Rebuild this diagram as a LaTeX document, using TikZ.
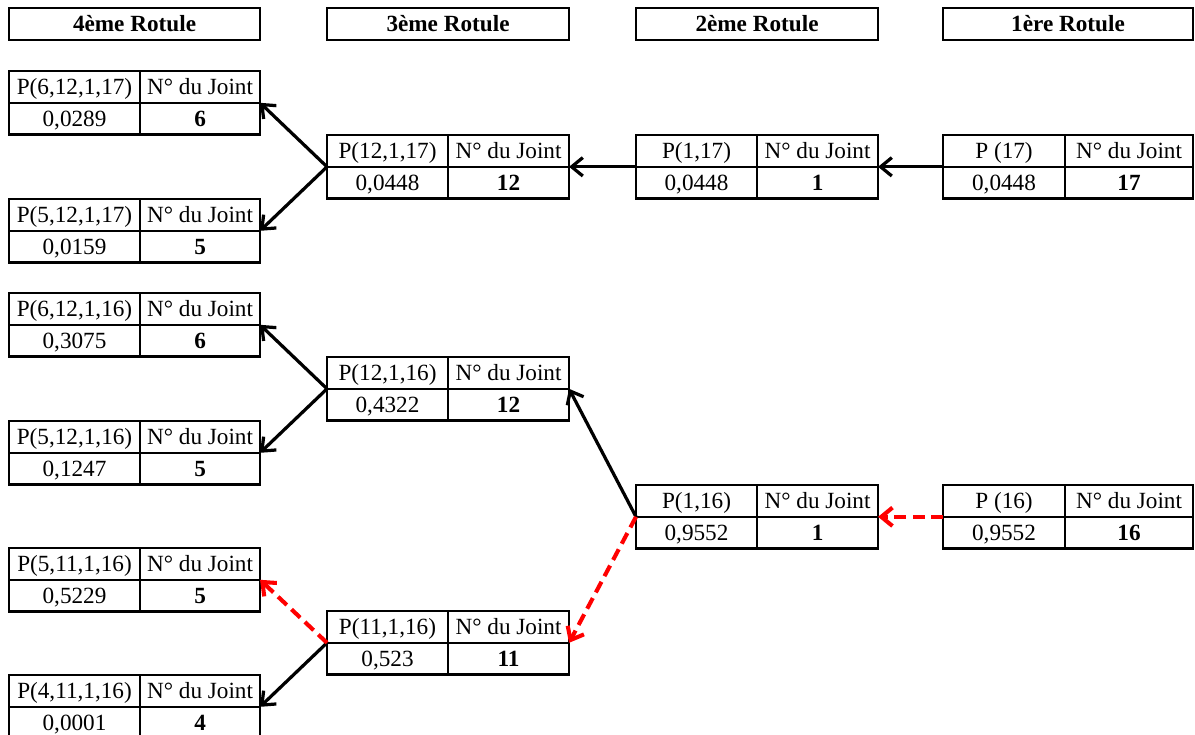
\documentclass[tikz,border=0pt]{standalone}
\usepackage{fontspec}
\setmainfont{Liberation Serif}
\usepackage{tikz}
\usetikzlibrary{arrows.meta,positioning}
\tikzset{
  cellule/.style={draw, line width=1.6pt, inner sep=0pt, outer sep=0pt, anchor=north west,
                  minimum height=0.795cm, text height=13pt, text depth=2pt,
                  font=\fontsize{16.5}{18}\selectfont},
  titre/.style={cellule, minimum height=0.8cm, font=\fontsize{16.5}{18}\selectfont\bfseries},
  fleche/.style={-{Straight Barb[length=2.8mm, width=4.6mm]}, line width=2.3pt},
  choisi/.style={fleche, red, line width=2.9pt, dash pattern=on 3mm off 1.6mm},
}
%% tableau d'une rotule : nom, x, y, largeur gauche, largeur droite, P, valeur, joint
\newcommand{\rotule}[8]{%
  \node[cellule, minimum width=#4] (#1-p) at (#2,#3) {#6};
  \node[cellule, minimum width=#5] (#1-n) at (#1-p.north east) {N° du Joint};
  \node[cellule, minimum width=#4] (#1-v) at (#1-p.south west) {#7};
  \node[cellule, minimum width=#5, font=\fontsize{16.5}{18}\selectfont\bfseries] (#1-j) at (#1-v.north east) {#8};
}

\begin{document}
\begin{tikzpicture}[x=0.025cm,y=-0.025cm]
    \useasboundingbox (0,0) rectangle (1195,735);

    %% ---------- en-tetes ----------
    \node[titre, minimum width=6.275cm] (hQuatre) at (9,8)   {4ème Rotule};
    \node[titre, minimum width=6.05cm]  (hTrois)  at (327,8) {3ème Rotule};
    \node[titre, minimum width=6.05cm]  (hDeux)   at (636,8) {2ème Rotule};
    \node[titre, minimum width=6.25cm]  (hUne)    at (943,8) {1ère Rotule};

    %% ---------- branche du joint 17 ----------
    \rotule{tQa}{9}{71}{3.275cm}{3.0cm}{P(6,12,1,17)}{0,0289}{6}
    \rotule{tTa}{327}{135}{3.025cm}{3.025cm}{P(12,1,17)}{0,0448}{12}
    \rotule{tQb}{9}{199}{3.275cm}{3.0cm}{P(5,12,1,17)}{0,0159}{5}
    \rotule{tDa}{636}{135}{3.025cm}{3.025cm}{P(1,17)}{0,0448}{1}
    \rotule{tUa}{943}{135}{3.05cm}{3.2cm}{P (17)}{0,0448}{17}

    %% ---------- branche du joint 16 ----------
    \rotule{tQc}{9}{293}{3.275cm}{3.0cm}{P(6,12,1,16)}{0,3075}{6}
    \rotule{tTb}{327}{357}{3.025cm}{3.025cm}{P(12,1,16)}{0,4322}{12}
    \rotule{tQd}{9}{421}{3.275cm}{3.0cm}{P(5,12,1,16)}{0,1247}{5}
    \rotule{tDb}{636}{485}{3.025cm}{3.025cm}{P(1,16)}{0,9552}{1}
    \rotule{tUb}{943}{485}{3.05cm}{3.2cm}{P (16)}{0,9552}{16}
    \rotule{tQe}{9}{548}{3.275cm}{3.0cm}{P(5,11,1,16)}{0,5229}{5}
    \rotule{tTc}{327}{611}{3.025cm}{3.025cm}{P(11,1,16)}{0,523}{11}
    \rotule{tQf}{9}{675}{3.275cm}{3.0cm}{P(4,11,1,16)}{0,0001}{4}

    %% ---------- liaisons ----------
    \draw[fleche] (tUa-p.south west) -- (tDa-n.south east);
    \draw[fleche] (tDa-p.south west) -- (tTa-n.south east);
    \foreach \d in {tQa,tQb}
      \draw[fleche] (tTa-p.south west) -- (\d-n.south east);
    \foreach \d in {tQc,tQd}
      \draw[fleche] (tTb-p.south west) -- (\d-n.south east);
    \draw[fleche] (tDb-p.south west) -- (tTb-n.south east);
    \draw[fleche] (tTc-p.south west) -- (tQf-n.south east);

    %% chemin retenu, en rouge
    \draw[choisi] (tUb-p.south west) -- (tDb-n.south east);
    \draw[choisi] (tDb-p.south west) -- (tTc-n.south east);
    \draw[choisi] (tTc-p.south west) -- (tQe-n.south east);

\end{tikzpicture}
\end{document}
